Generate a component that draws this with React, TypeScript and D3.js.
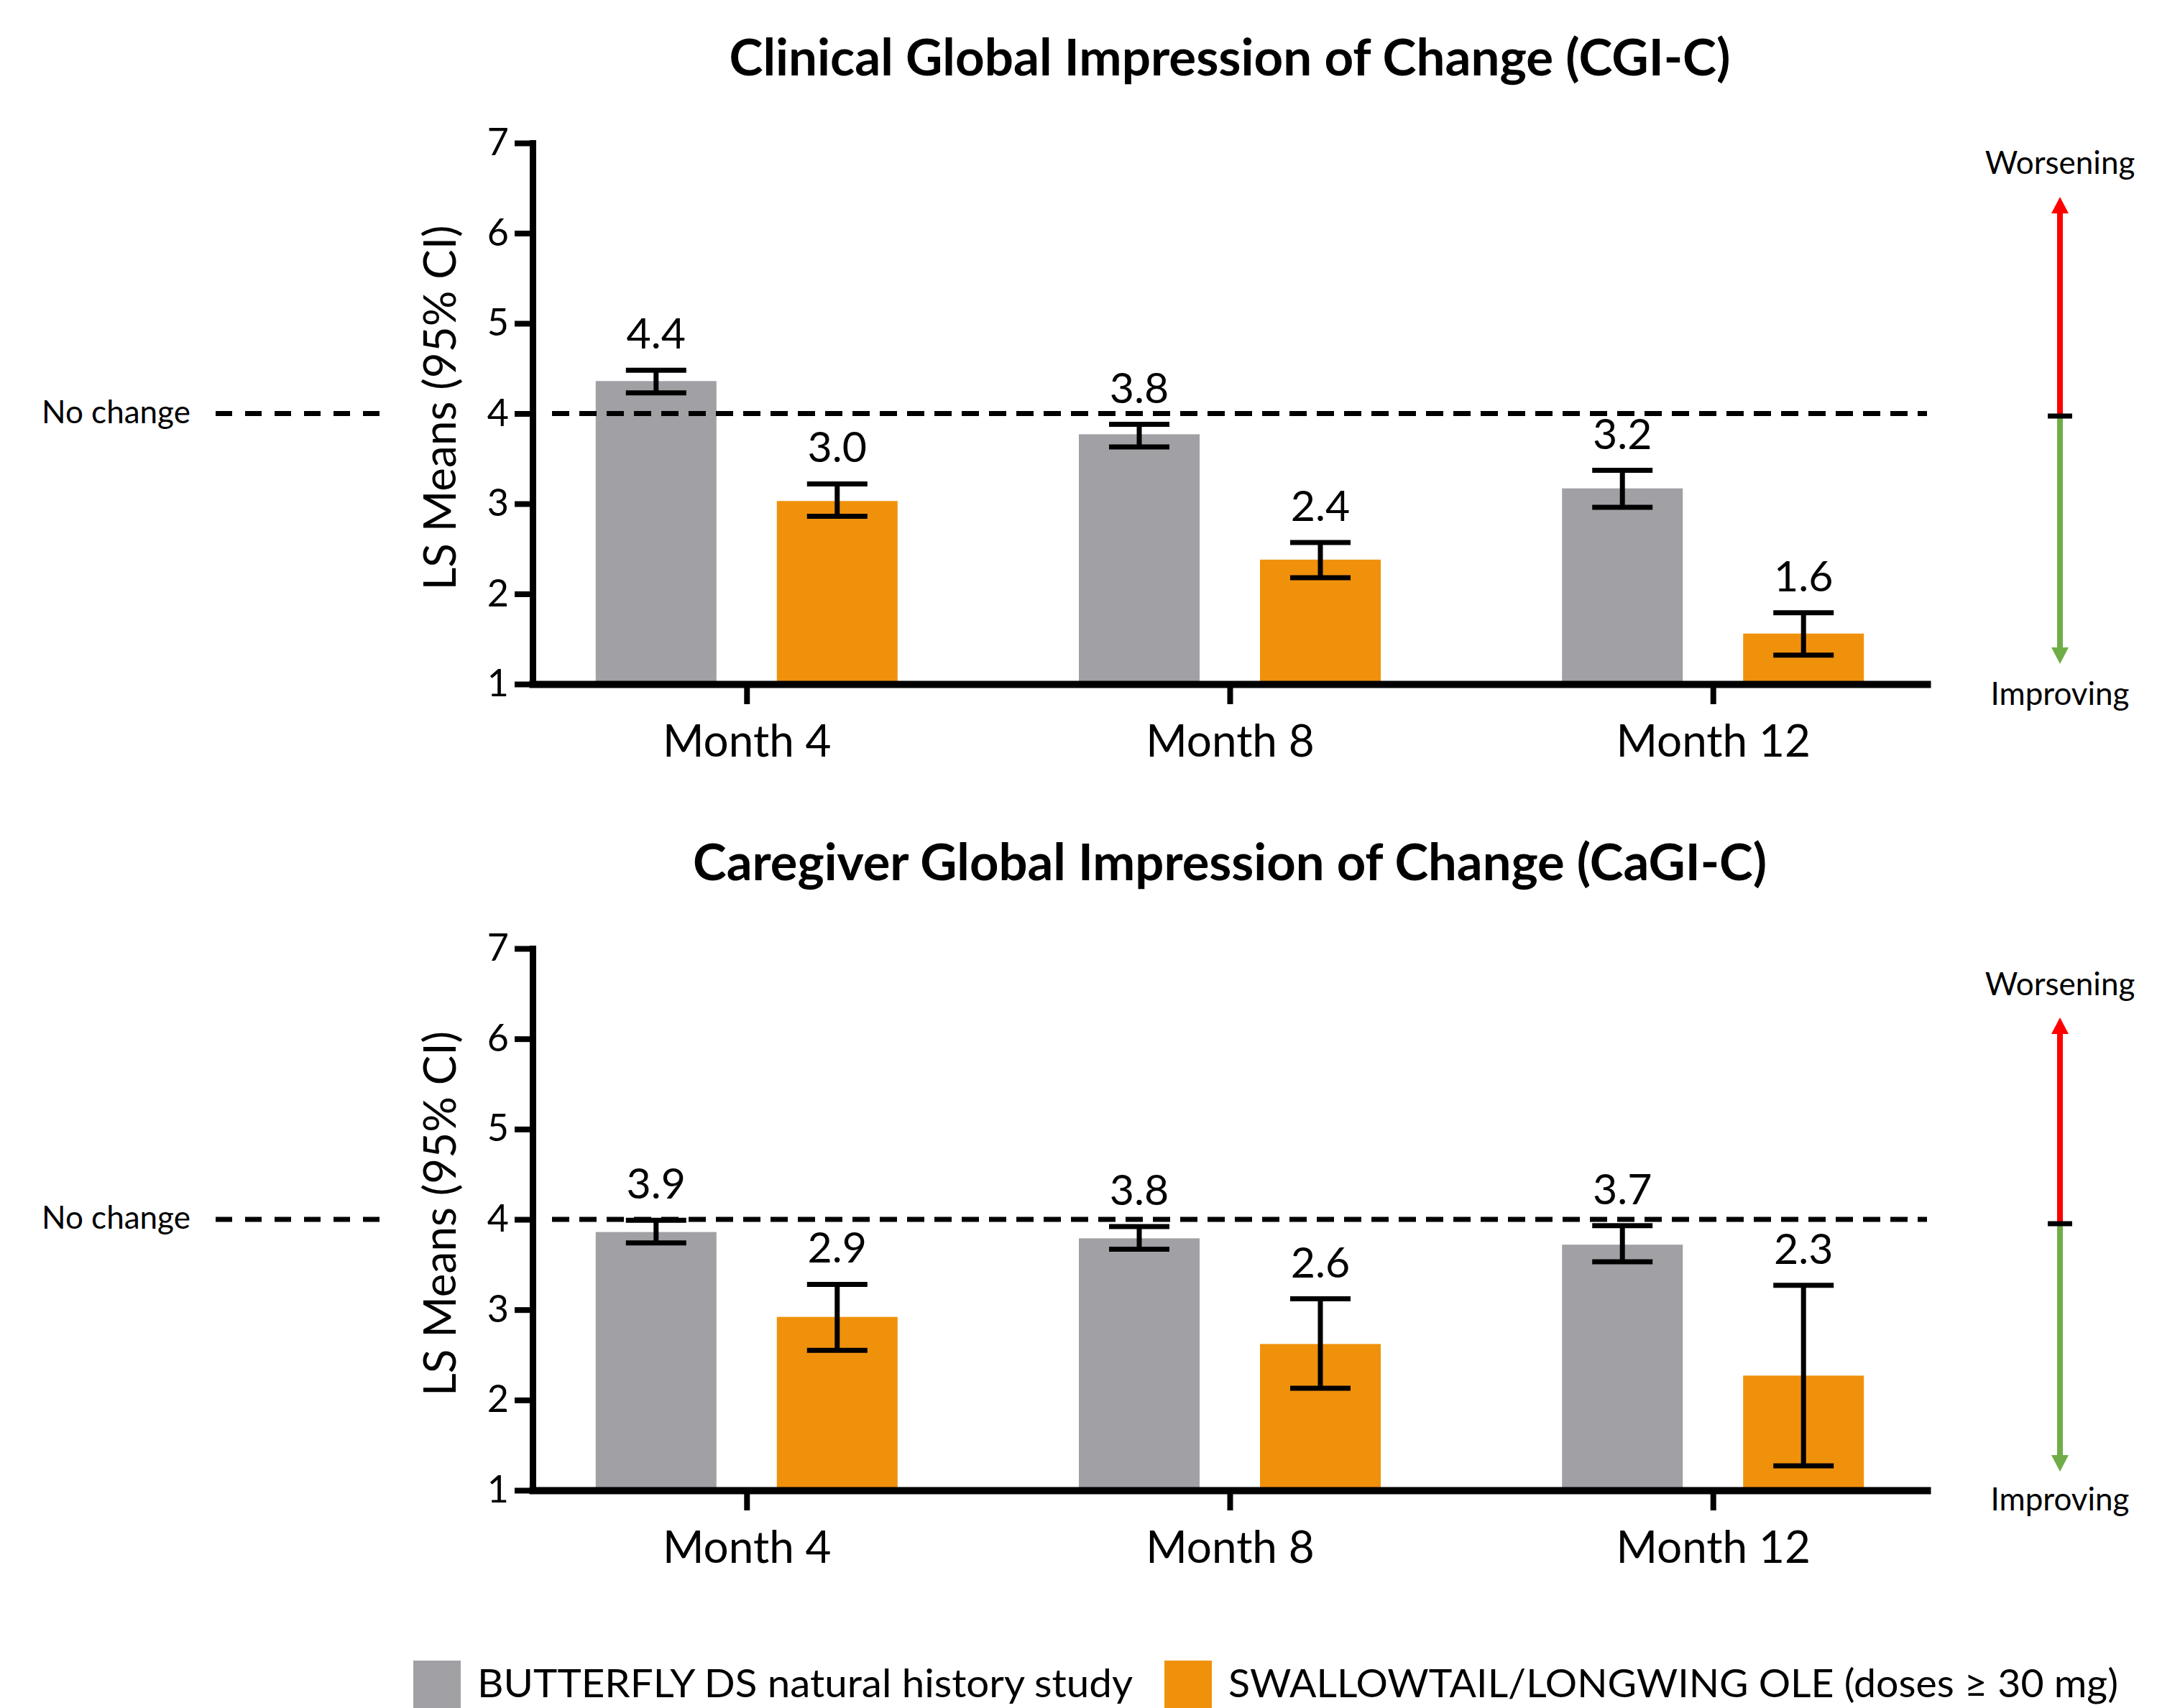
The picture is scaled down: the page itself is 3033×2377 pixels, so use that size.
import React, { useEffect, useRef } from "react";
import * as d3 from "d3";

const FONT = "Lato, 'Open Sans', sans-serif";

const months = ["Month 4", "Month 8", "Month 12"];
const yTicks = [1, 2, 3, 4, 5, 6, 7];
const seriesNames = [
  "BUTTERFLY DS natural history study",
  "SWALLOWTAIL/LONGWING OLE (doses \u2265 30 mg)",
];
const seriesColors = ["#a1a0a5", "#f0910c"];

// CGI-C (clinician)
const cgiButterfly = [4.36, 3.77, 3.17];
const cgiButterflyLow = [4.23, 3.63, 2.96];
const cgiButterflyHigh = [4.48, 3.88, 3.37];
const cgiOle = [3.03, 2.38, 1.56];
const cgiOleLow = [2.86, 2.18, 1.32];
const cgiOleHigh = [3.22, 2.57, 1.79];

// CaGI-C (caregiver)
const cagiButterfly = [3.86, 3.79, 3.72];
const cagiButterflyLow = [3.74, 3.67, 3.53];
const cagiButterflyHigh = [3.99, 3.92, 3.93];
const cagiOle = [2.92, 2.62, 2.27];
const cagiOleLow = [2.55, 2.13, 1.27];
const cagiOleHigh = [3.28, 3.12, 3.27];

const noChange = 4;

const panels = [
  {
    title: "Clinical Global Impression of Change (CGI-C)",
    titleY: 105,
    titleLen: 1393,
    top: 199,
    bottom: 952,
    arrow: { tip: 274, mid: 579, end: 924, worseY: 242, betterY: 981 },
    series: [
      { mean: cgiButterfly, lo: cgiButterflyLow, hi: cgiButterflyHigh },
      { mean: cgiOle, lo: cgiOleLow, hi: cgiOleHigh },
    ],
  },
  {
    title: "Caregiver Global Impression of Change (CaGI-C)",
    titleY: 1225,
    titleLen: 1494,
    top: 1320,
    bottom: 2074,
    arrow: { tip: 1416, mid: 1703, end: 2048, worseY: 1385, betterY: 2102 },
    series: [
      { mean: cagiButterfly, lo: cagiButterflyLow, hi: cagiButterflyHigh },
      { mean: cagiOle, lo: cagiOleLow, hi: cagiOleHigh },
    ],
  },
];

export default function App() {
  const svgRef = useRef<SVGSVGElement>(null);

  useEffect(() => {
    const svg = d3.select(svgRef.current);
    svg.selectAll("*").remove();

    const axisX = 741;
    const rightEdge = 2681;
    const x = d3.scalePoint<string>().domain(months).range([axisX, rightEdge]).padding(0.443);
    const inner = d3.scaleBand<string>().domain(["0", "1"]).range([-210, 210]).paddingInner(1 / 3);
    const fmt = d3.format(".1f");

    panels.forEach((p) => {
      const y = d3.scaleLinear().domain([1, 7]).range([p.bottom, p.top]);
      const g = svg.append("g");

      g.append("text")
        .attr("x", x("Month 8"))
        .attr("y", p.titleY)
        .attr("text-anchor", "middle")
        .attr("font-weight", 700)
        .attr("font-size", 70)
        .attr("textLength", p.titleLen)
        .attr("lengthAdjust", "spacingAndGlyphs")
        .text(p.title);

      // bars
      p.series.forEach((s, si) => {
        g.selectAll(null)
          .data(s.mean)
          .enter()
          .append("rect")
          .attr("x", (d, i) => x(months[i])! + inner(String(si))!)
          .attr("y", (d) => y(d))
          .attr("width", inner.bandwidth())
          .attr("height", (d) => y(1) - y(d))
          .attr("fill", seriesColors[si]);
      });

      // no change line (inside and outside the plot)
      g.append("line")
        .attr("x1", 768)
        .attr("x2", rightEdge)
        .attr("y1", y(noChange))
        .attr("y2", y(noChange))
        .attr("stroke", "#000")
        .attr("stroke-width", 7)
        .attr("stroke-dasharray", "24 14");
      g.append("line")
        .attr("x1", 300)
        .attr("x2", 532)
        .attr("y1", y(noChange))
        .attr("y2", y(noChange))
        .attr("stroke", "#000")
        .attr("stroke-width", 7)
        .attr("stroke-dasharray", "23 18");
      g.append("text")
        .attr("x", 58)
        .attr("y", y(noChange) + 13)
        .attr("font-size", 44)
        .text("No change");

      // error bars + labels
      p.series.forEach((s, si) => {
        s.mean.forEach((m, i) => {
          const cx = x(months[i])! + inner(String(si))! + inner.bandwidth() / 2;
          const eb = g.append("g").attr("stroke", "#000").attr("stroke-width", 7);
          eb.append("line").attr("x1", cx).attr("x2", cx).attr("y1", y(s.lo[i])).attr("y2", y(s.hi[i]));
          eb.append("line").attr("x1", cx - 42).attr("x2", cx + 42).attr("y1", y(s.lo[i])).attr("y2", y(s.lo[i]));
          eb.append("line").attr("x1", cx - 42).attr("x2", cx + 42).attr("y1", y(s.hi[i])).attr("y2", y(s.hi[i]));
          g.append("text")
            .attr("x", cx)
            .attr("y", y(s.hi[i]) - 30)
            .attr("text-anchor", "middle")
            .attr("font-size", 59)
            .text(fmt(m));
        });
      });

      // axes
      const yAxis = g
        .append("g")
        .attr("transform", `translate(${axisX},0)`)
        .call(d3.axisLeft(y).tickValues(yTicks).tickSize(25).tickSizeOuter(0).tickPadding(8).tickFormat(d3.format("d")));
      yAxis.attr("font-family", null).attr("font-size", null);
      yAxis.select(".domain").attr("stroke-width", 9).attr("stroke-linecap", "square");
      yAxis.selectAll(".tick line").attr("stroke-width", 8);
      yAxis.selectAll(".tick text").attr("font-size", 52).attr("fill", "#000");

      const xAxis = g
        .append("g")
        .attr("transform", `translate(0,${y(1)})`)
        .call(d3.axisBottom(x).tickSize(28).tickSizeOuter(0).tickPadding(29));
      xAxis.attr("font-family", null).attr("font-size", null);
      xAxis.select(".domain").attr("stroke-width", 10).attr("stroke-linecap", "square");
      xAxis.selectAll(".tick line").attr("stroke-width", 8);
      xAxis.selectAll(".tick text").attr("font-size", 62).attr("fill", "#000");

      g.append("text")
        .attr("transform", `translate(634,${(p.top + p.bottom) / 2 - 8}) rotate(-90)`)
        .attr("text-anchor", "middle")
        .attr("font-size", 62)
        .text("LS Means (95% CI)");

      // worsening / improving indicator
      const ax = 2866;
      const a = p.arrow;
      g.append("line")
        .attr("x1", ax).attr("x2", ax).attr("y1", a.mid).attr("y2", a.tip + 22)
        .attr("stroke", "#ff0000").attr("stroke-width", 8);
      g.append("path")
        .attr("d", `M${ax - 12},${a.tip + 23}L${ax + 12},${a.tip + 23}L${ax},${a.tip}Z`)
        .attr("fill", "#ff0000");
      g.append("line")
        .attr("x1", ax).attr("x2", ax).attr("y1", a.mid).attr("y2", a.end - 22)
        .attr("stroke", "#70ad47").attr("stroke-width", 8);
      g.append("path")
        .attr("d", `M${ax - 12},${a.end - 23}L${ax + 12},${a.end - 23}L${ax},${a.end}Z`)
        .attr("fill", "#70ad47");
      g.append("line")
        .attr("x1", ax - 17).attr("x2", ax + 17).attr("y1", a.mid).attr("y2", a.mid)
        .attr("stroke", "#000").attr("stroke-width", 7);
      g.append("text").attr("x", ax).attr("y", a.worseY).attr("text-anchor", "middle").attr("font-size", 44).text("Worsening");
      g.append("text").attr("x", ax).attr("y", a.betterY).attr("text-anchor", "middle").attr("font-size", 44).text("Improving");
    });

    // legend (kept just inside the bottom edge)
    const legendX = [575, 1620];
    const legendLen = [912, 1238];
    seriesNames.forEach((name, i) => {
      svg.append("rect").attr("x", legendX[i]).attr("y", 2311).attr("width", 66).attr("height", 66).attr("fill", seriesColors[i]);
      svg.append("text")
        .attr("x", legendX[i] + 89)
        .attr("y", 2362)
        .attr("font-size", 54)
        .attr("textLength", legendLen[i])
        .attr("lengthAdjust", "spacingAndGlyphs")
        .text(name);
    });
  }, []);

  return (
    <svg
      ref={svgRef}
      width={3033}
      height={2377}
      style={{ position: "absolute", left: 0, top: 0, background: "#fff", fontFamily: FONT }}
    />
  );
}
